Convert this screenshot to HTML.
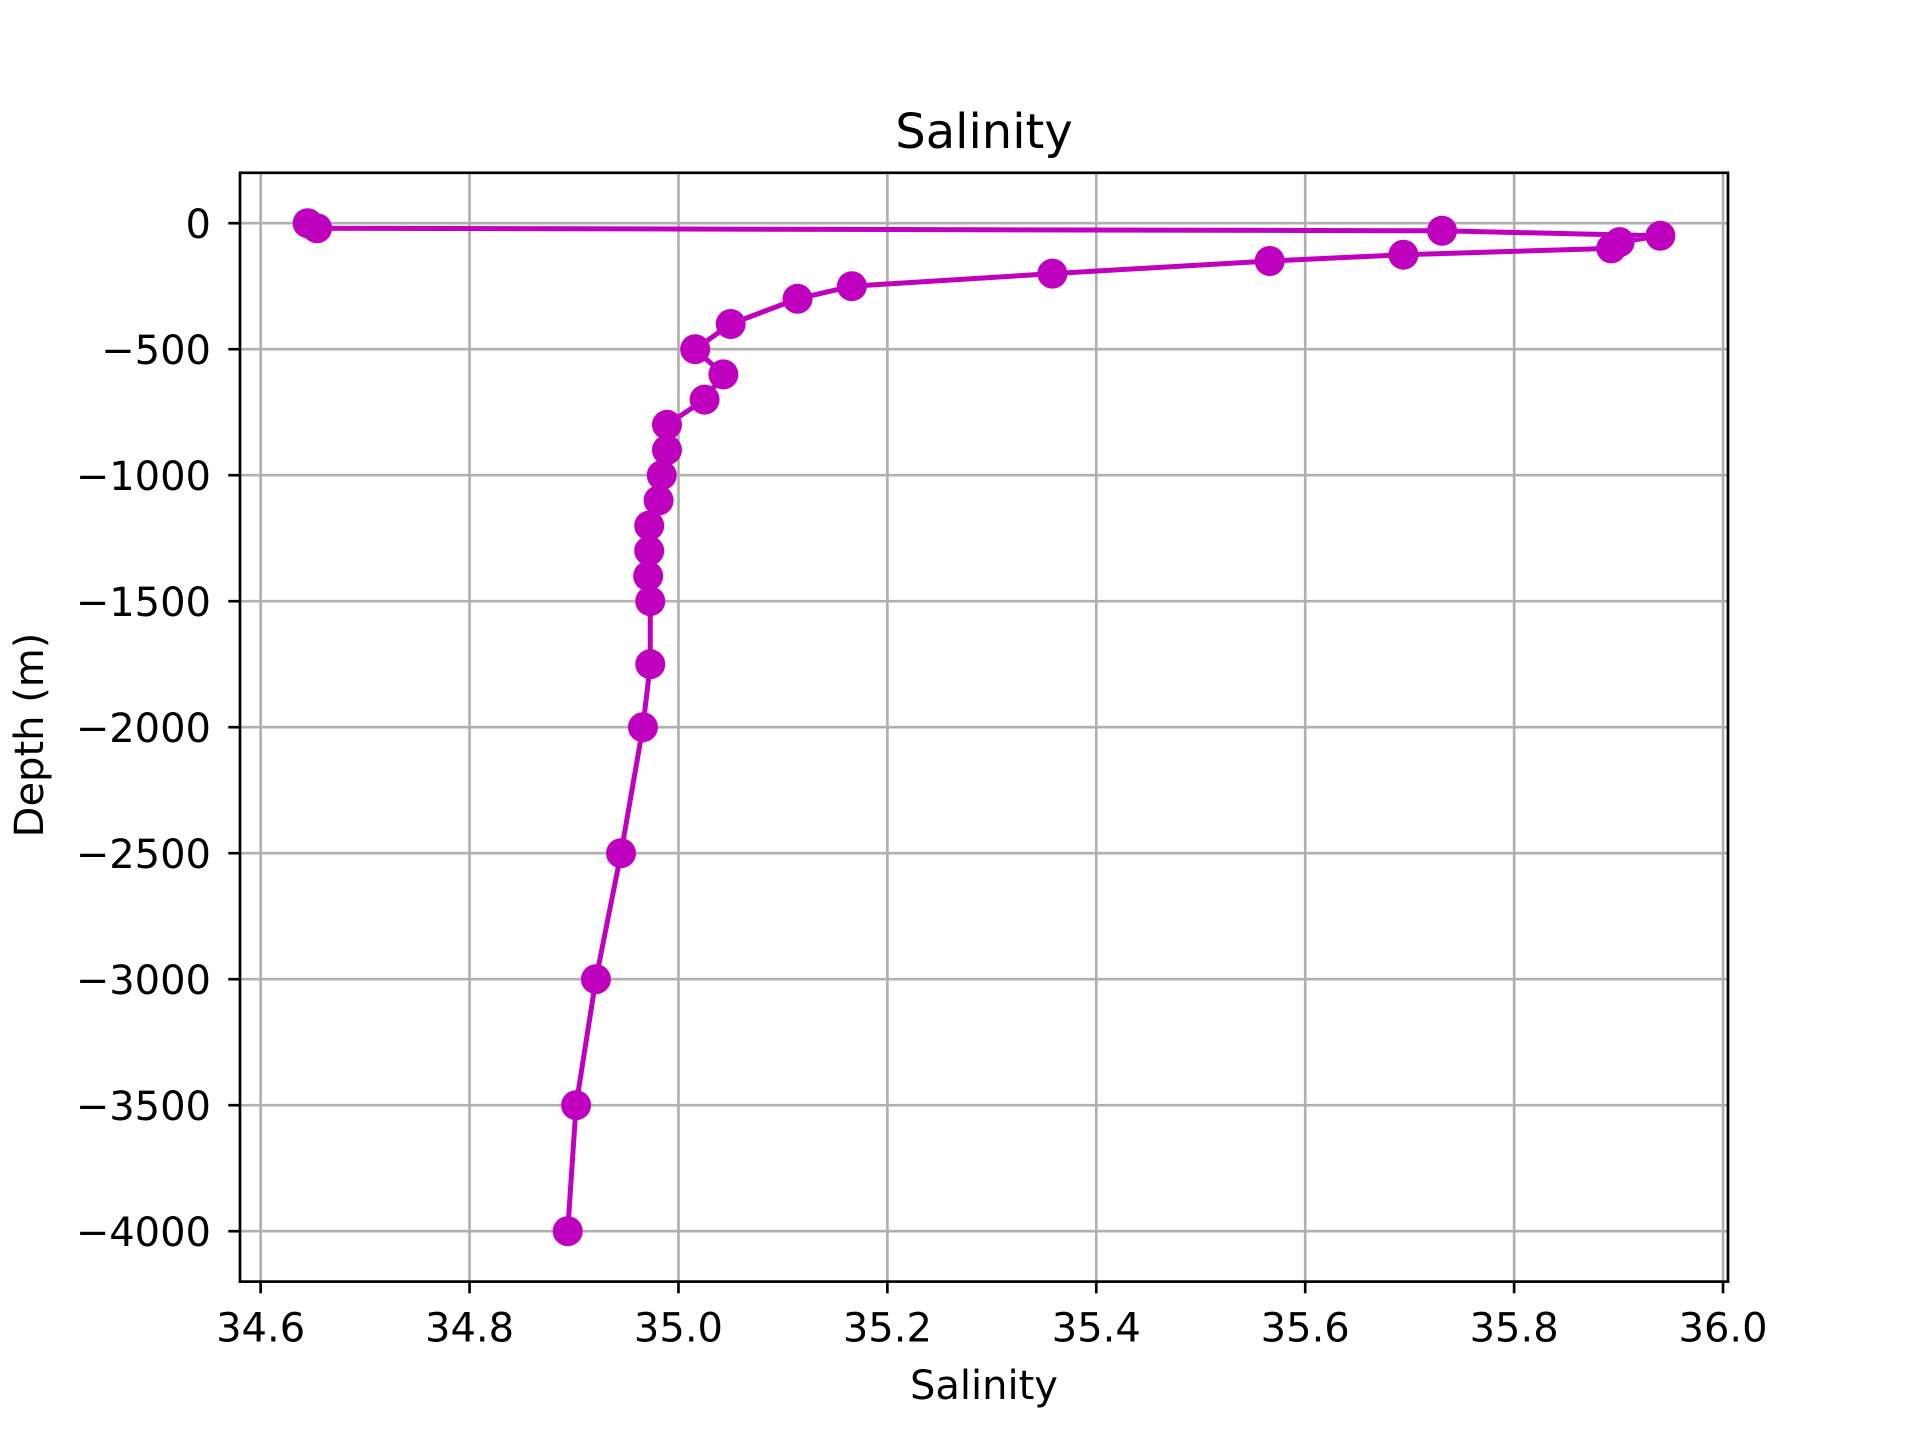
<!DOCTYPE html>
<html><head><meta charset="utf-8"><style>
html,body{margin:0;padding:0;background:#fff;}
svg text{font-family:"DejaVu Sans","Liberation Sans",sans-serif;fill:#000;}
</style></head><body>
<svg id="chart" width="1920" height="1440" xmlns="http://www.w3.org/2000/svg">
<rect width="1920" height="1440" fill="#fff"/>
<g id="grid"></g>
<g id="axes"></g>
<g id="series"></g>
<rect x="240" y="172.8" width="1488" height="1108.8" fill="none" stroke="#000" stroke-width="2.67"/>
<text x="984" y="148" font-size="48" text-anchor="middle">Salinity</text>
<text x="984" y="1399" font-size="40" text-anchor="middle">Salinity</text>
<text x="43" y="735" font-size="40" text-anchor="middle" transform="rotate(-90 43 735)">Depth (m)</text>
</svg>
<script>
const salinity = [34.645,34.654,35.731,35.940,35.901,35.893,35.694,35.566,35.358,35.166,35.114,35.050,35.016,35.043,35.025,34.989,34.989,34.984,34.981,34.972,34.972,34.971,34.973,34.973,34.966,34.945,34.921,34.902,34.894];
const depth = [0,-20,-30,-50,-75,-100,-125,-150,-200,-250,-300,-400,-500,-600,-700,-800,-900,-1000,-1100,-1200,-1300,-1400,-1500,-1750,-2000,-2500,-3000,-3500,-4000];
const xTicks = [34.6,34.8,35.0,35.2,35.4,35.6,35.8,36.0];
const yTicks = [0,-500,-1000,-1500,-2000,-2500,-3000,-3500,-4000];

const NS="http://www.w3.org/2000/svg";
const L=240,R=1728,T=172.8,B=1281.6;
const xmin0=Math.min(...salinity),xmax0=Math.max(...salinity);
const ymin0=Math.min(...depth),ymax0=Math.max(...depth);
const xm=(xmax0-xmin0)*0.05||0.05, ym=(ymax0-ymin0)*0.05||50;
const x0=xmin0-xm,x1=xmax0+xm,y0=ymin0-ym,y1=ymax0+ym;
const sx=v=>L+(v-x0)/(x1-x0)*(R-L);
const sy=v=>B-(v-y0)/(y1-y0)*(B-T);
function mk(tag,attrs,parent){const e=document.createElementNS(NS,tag);for(const k in attrs)e.setAttribute(k,attrs[k]);parent.appendChild(e);return e;}
const grid=document.getElementById('grid'),axes=document.getElementById('axes'),series=document.getElementById('series');
xTicks.forEach(t=>{
  const x=sx(t); if(x<L-1||x>R+1)return;
  const g=mk('line',{x1:x,x2:x,y1:T,y2:B,stroke:'#b0b0b0','stroke-width':2.67},grid);
  
  
  const tk=mk('line',{x1:x,x2:x,y1:B,y2:B+11.7,stroke:'#000','stroke-width':2.67},axes);
  
  
  const tx=mk('text',{x:x,y:B+60,'font-size':40,'text-anchor':'middle'},axes);
  tx.textContent=t.toFixed(1);
  
  
});
yTicks.forEach(t=>{
  const y=sy(t); if(y<T-1||y>B+1)return;
  const g=mk('line',{x1:L,x2:R,y1:y,y2:y,stroke:'#b0b0b0','stroke-width':2.67},grid);
  
  
  const tk=mk('line',{x1:L-11.7,x2:L,y1:y,y2:y,stroke:'#000','stroke-width':2.67},axes);
  
  
  const tx=mk('text',{x:L-29,y:y+15,'font-size':40,'text-anchor':'end'},axes);
  tx.textContent=t<0?'\u2212'+Math.abs(t):String(t);
  
  
});
const pts=salinity.map((s,i)=>sx(s).toFixed(1)+','+sy(depth[i]).toFixed(1)).join(' ');
const pl=mk('polyline',{points:pts,fill:'none',stroke:'#bf00bf','stroke-width':5,'stroke-linejoin':'round'},series);


salinity.forEach((s,i)=>{
  const c=mk('circle',{cx:sx(s),cy:sy(depth[i]),r:15,fill:'#bf00bf'},series);
  
  
});
</script>
</body></html>
